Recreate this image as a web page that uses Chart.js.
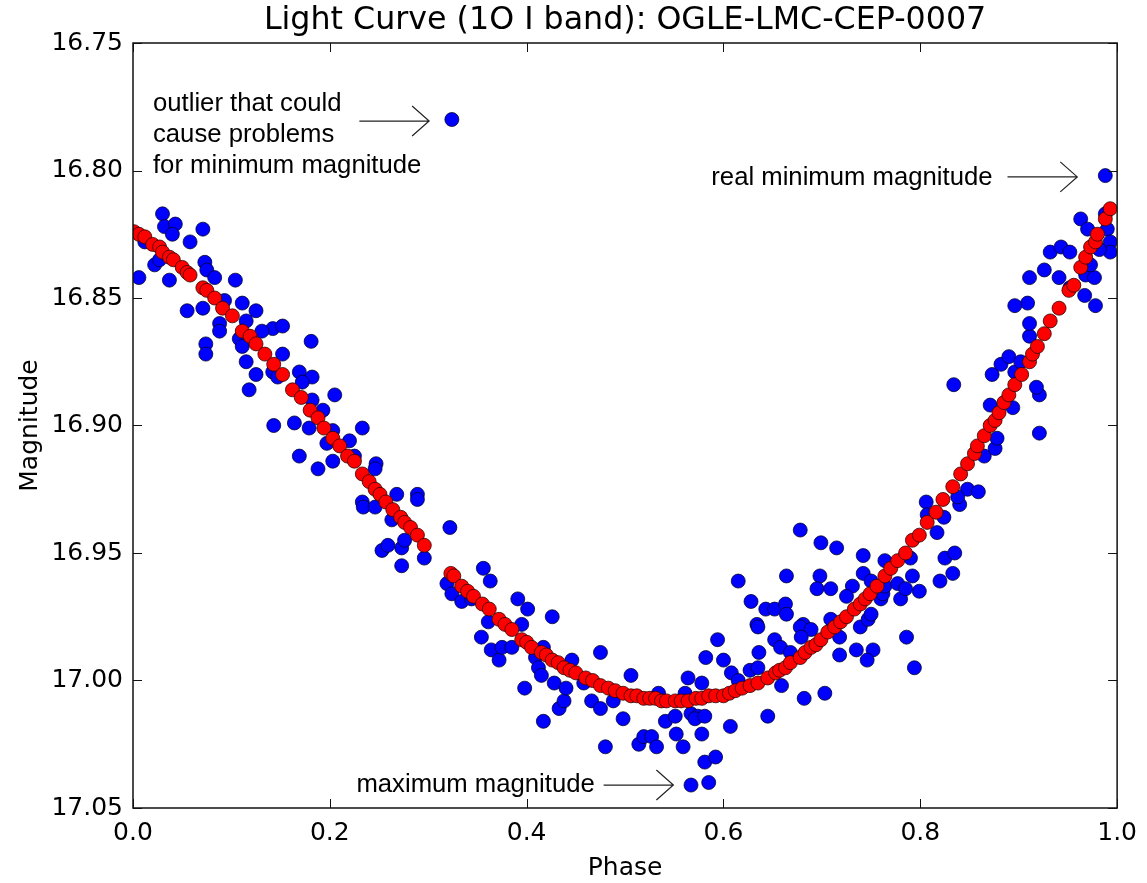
<!DOCTYPE html>
<html>
<head>
<meta charset="utf-8">
<script src="https://cdn.jsdelivr.net/npm/chart.js@4.4.1/dist/chart.umd.min.js"></script>
<style>
  html, body { margin: 0; padding: 0; background: #fff; }
  #caixa { width: 1147px; height: 883px; }
</style>
</head>
<body>
<div id="caixa"><canvas id="graficoCurva" width="1147" height="883"></canvas></div>
<script>
// pontos observados (azul)
const faseObs = [
  0.324, 0.030, 0.032, 0.043, 0.040, 0.071, 0.058, 0.006, 0.037, 0.022, 0.027, 0.012, 0.073, 0.075, 0.083, 0.104,
  0.055, 0.071, 0.111, 0.125, 0.088, 0.088, 0.093, 0.115, 0.142, 0.152, 0.131, 0.181, 0.074, 0.108,
  0.074, 0.115, 0.125, 0.118, 0.111, 0.152, 0.142, 0.147, 0.169, 0.182, 0.172, 0.205, 0.182, 0.193, 0.143, 0.164,
  0.179, 0.203, 0.197, 0.169, 0.188, 0.203, 0.233, 0.220, 0.225, 0.247, 0.246, 0.268, 0.289, 0.289, 0.233, 0.234,
  0.246, 0.263, 0.253, 0.259, 0.273, 0.276, 0.273, 0.296, 0.322, 0.319, 0.324,
  0.334, 0.356, 0.363, 0.391, 0.401, 0.426, 0.361, 0.395, 0.344, 0.615, 0.628, 0.643, 0.652, 0.634, 0.354, 0.364,
  0.372, 0.375, 0.385, 0.398, 0.409, 0.412, 0.415, 0.417, 0.417, 0.428, 0.433, 0.438, 0.440, 0.446, 0.458, 0.466,
  0.475, 0.480, 0.475, 0.498, 0.506, 0.488, 0.514, 0.519, 0.527, 0.532, 0.534, 0.541, 0.552, 0.551, 0.559, 0.561,
  0.564, 0.578, 0.567, 0.574, 0.571, 0.581, 0.578, 0.581, 0.592, 0.567, 0.585, 0.582, 0.594, 0.600, 0.607, 0.608,
  0.615, 0.627, 0.635, 0.636, 0.635, 0.645, 0.652,
  0.663, 0.664, 0.658, 0.668, 0.659, 0.681, 0.678, 0.689, 0.679, 0.682, 0.703, 0.709, 0.718, 0.718, 0.735, 0.739,
  0.747, 0.750, 0.752, 0.746, 0.760, 0.780, 0.786, 0.794,
  0.678, 0.699, 0.715, 0.742, 0.764, 0.664, 0.698, 0.695, 0.709, 0.731, 0.725, 0.742, 0.750, 0.762, 0.764, 0.777,
  0.785, 0.792, 0.799, 0.820, 0.833, 0.825, 0.835, 0.790, 0.817, 0.824, 0.806, 0.807, 0.840, 0.848, 0.859, 0.838,
  0.865, 0.876, 0.878, 0.871, 0.894, 0.921, 0.921, 0.918, 0.834, 0.873, 0.882, 0.890, 0.896, 0.902, 0.911,
  0.988, 0.963, 0.970, 0.988, 0.990, 0.993, 0.993, 0.982, 0.932, 0.943, 0.952, 0.911, 0.926, 0.941, 0.968, 0.977,
  0.952, 0.967, 0.978, 0.909, 0.896, 0.911, 0.973
]
const magObs = [
  16.780, 16.817, 16.822, 16.821, 16.825, 16.823, 16.828, 16.842, 16.843, 16.837, 16.835, 16.828, 16.836, 16.839, 16.842, 16.843,
  16.855, 16.854, 16.852, 16.855, 16.860, 16.863, 16.851, 16.859, 16.862, 16.861, 16.863, 16.867, 16.868, 16.866,
  16.872, 16.875, 16.880, 16.886, 16.869, 16.872, 16.879, 16.881, 16.879, 16.881, 16.883, 16.888, 16.890, 16.894, 16.900, 16.899,
  16.901, 16.902, 16.907, 16.912, 16.917, 16.914, 16.901, 16.906, 16.912, 16.915, 16.917, 16.927, 16.927, 16.929, 16.930, 16.932,
  16.932, 16.937, 16.949, 16.947, 16.948, 16.945, 16.955, 16.952, 16.940, 16.962, 16.966,
  16.969, 16.956, 16.961, 16.968, 16.972, 16.975, 16.977, 16.978, 16.968, 16.961, 16.969, 16.972, 16.972, 16.978, 16.983, 16.988,
  16.992, 16.987, 16.987, 17.003, 16.991, 16.995, 16.998, 16.987, 17.016, 17.001, 17.011, 17.008, 17.003, 16.992, 17.001, 17.008,
  17.011, 17.026, 16.989, 17.015, 16.998, 17.008, 17.025, 17.022, 17.022, 17.026, 17.005, 17.016, 17.021, 17.014, 17.026, 17.005,
  16.999, 17.001, 17.013, 17.014, 17.015, 17.014, 17.021, 17.032, 17.030, 17.041, 17.040, 16.991, 16.984, 16.992, 17.018, 16.997,
  17.000, 16.996, 16.995, 16.989, 16.979, 17.014, 16.984,
  16.970, 16.974, 16.987, 16.989, 17.002, 16.978, 16.979, 16.980, 16.983, 17.007, 17.005, 16.976, 16.983, 16.990, 16.988, 16.979,
  16.976, 16.974, 16.988, 16.992, 16.968, 16.968, 16.983, 16.995,
  16.941, 16.946, 16.948, 16.951, 16.953, 16.959, 16.959, 16.964, 16.964, 16.963, 16.967, 16.958, 16.961, 16.966, 16.963, 16.962,
  16.964, 16.959, 16.965, 16.961, 16.958, 16.952, 16.950, 16.952, 16.942, 16.936, 16.930, 16.935, 16.931, 16.925, 16.926, 16.928,
  16.912, 16.909, 16.905, 16.892, 16.893, 16.903, 16.888, 16.885, 16.884, 16.880, 16.876, 16.873, 16.879, 16.875, 16.865,
  16.802, 16.819, 16.823, 16.817, 16.823, 16.828, 16.832, 16.831, 16.832, 16.830, 16.832, 16.842, 16.839, 16.842, 16.841, 16.842,
  16.846, 16.849, 16.853, 16.852, 16.853, 16.860, 16.837
]

// curva ajustada (vermelho)
const faseAjuste = [
  0.001, 0.006, 0.012, 0.020, 0.027, 0.030, 0.037, 0.041, 0.050, 0.055, 0.058, 0.071, 0.075, 0.083, 0.091, 0.101,
  0.111, 0.119, 0.125, 0.134, 0.143, 0.152, 0.162, 0.171, 0.180, 0.188, 0.194, 0.203, 0.210, 0.218, 0.225, 0.233,
  0.240, 0.246, 0.251, 0.257, 0.264, 0.272, 0.276, 0.282, 0.289, 0.296, 0.323, 0.326, 0.334, 0.340, 0.346, 0.355,
  0.362, 0.372, 0.378, 0.385, 0.395, 0.400, 0.405, 0.415, 0.420, 0.426, 0.432, 0.438, 0.444, 0.450, 0.460, 0.467,
  0.475, 0.483, 0.490, 0.498, 0.506, 0.512, 0.519, 0.525, 0.531, 0.537, 0.542, 0.551, 0.557, 0.564, 0.572, 0.578,
  0.585, 0.592, 0.600, 0.606, 0.612, 0.619, 0.627, 0.635, 0.645, 0.653, 0.657, 0.663, 0.668, 0.678, 0.683, 0.689,
  0.694, 0.699, 0.706, 0.713, 0.719, 0.725, 0.733, 0.739, 0.744, 0.749, 0.756, 0.764, 0.770, 0.777, 0.785, 0.792,
  0.799, 0.807, 0.816, 0.823, 0.833, 0.841, 0.848, 0.855, 0.858, 0.865, 0.871, 0.876, 0.880, 0.885, 0.890, 0.896,
  0.903, 0.911, 0.914, 0.919, 0.926, 0.932, 0.941, 0.951, 0.956, 0.963, 0.968, 0.973, 0.978, 0.980, 0.988, 0.993
]
const magAjuste = [
  16.824, 16.825, 16.826, 16.829, 16.830, 16.832, 16.834, 16.835, 16.838, 16.840, 16.841, 16.846, 16.847, 16.850, 16.854, 16.857,
  16.863, 16.865, 16.868, 16.872, 16.876, 16.880, 16.886, 16.889, 16.894, 16.897, 16.901, 16.905, 16.908, 16.912, 16.914, 16.919,
  16.922, 16.925, 16.927, 16.930, 16.933, 16.936, 16.938, 16.940, 16.943, 16.947, 16.958, 16.959, 16.963, 16.965, 16.967, 16.970,
  16.972, 16.976, 16.978, 16.980, 16.984, 16.985, 16.987, 16.989, 16.990, 16.992, 16.993, 16.995, 16.996, 16.997, 16.999, 17.000,
  17.002, 17.003, 17.004, 17.005, 17.006, 17.006, 17.007, 17.007, 17.007, 17.008, 17.008, 17.008, 17.008, 17.008, 17.007, 17.007,
  17.006, 17.006, 17.006, 17.005, 17.004, 17.003, 17.002, 17.001, 16.999, 16.997, 16.996, 16.995, 16.993, 16.991, 16.989, 16.987,
  16.986, 16.984, 16.981, 16.979, 16.977, 16.975, 16.972, 16.970, 16.968, 16.966, 16.963, 16.959, 16.956, 16.953, 16.950, 16.945,
  16.943, 16.938, 16.934, 16.929, 16.924, 16.919, 16.915, 16.911, 16.908, 16.904, 16.900, 16.898, 16.895, 16.891, 16.888, 16.884,
  16.880, 16.875, 16.872, 16.869, 16.864, 16.859, 16.854, 16.847, 16.845, 16.838, 16.834, 16.830, 16.828, 16.825, 16.819, 16.815
]

const ticksFase = [0.0, 0.2, 0.4, 0.6, 0.8, 1.0]
const ticksMag = [16.75, 16.80, 16.85, 16.90, 16.95, 17.00, 17.05]

const titulo = 'Light Curve (1O I band): OGLE-LMC-CEP-0007'

// anotacoes: texto em coordenadas de dados, seta de -> ate
const notas = [
  { linhas: ['outlier that could', 'cause problems', 'for minimum magnitude'], fase: 0.0203, mag: 16.7739, alinha: 'left',
    setaDe: [0.2300, 16.7806], setaAte: [0.3009, 16.7806] },
  { linhas: ['real minimum magnitude'], fase: 0.8734, mag: 16.8029, alinha: 'right',
    setaDe: [0.8886, 16.8025], setaAte: [0.9595, 16.8025] },
  { linhas: ['maximum magnitude'], fase: 0.2270, mag: 17.0410, alinha: 'left',
    setaDe: [0.4782, 17.0410], setaAte: [0.5491, 17.0410] }
]

const fonteEixo = { family: 'DejaVu Sans', size: 25 }

const moldura = {
  id: 'moldura',
  afterDatasetsDraw(grafico) {
    const { ctx, chartArea: a, scales: { x, y } } = grafico
    ctx.save()
    ctx.strokeStyle = '#111'
    ctx.lineWidth = 1.5
    ctx.strokeRect(a.left, a.top, a.right - a.left, a.bottom - a.top)

    // ticks para dentro, nos quatro lados
    ctx.lineWidth = 1
    ticksFase.forEach((v) => {
      const px = Math.round(x.getPixelForValue(v)) + 0.5
      ctx.beginPath()
      ctx.moveTo(px, a.bottom); ctx.lineTo(px, a.bottom - 9)
      ctx.moveTo(px, a.top); ctx.lineTo(px, a.top + 9)
      ctx.stroke()
    })
    ticksMag.forEach((v) => {
      const py = Math.round(y.getPixelForValue(v)) + 0.5
      ctx.beginPath()
      ctx.moveTo(a.left, py); ctx.lineTo(a.left + 9, py)
      ctx.moveTo(a.right, py); ctx.lineTo(a.right - 9, py)
      ctx.stroke()
    })

    // titulo
    ctx.fillStyle = '#000'
    ctx.font = '31.7px "DejaVu Sans"'
    ctx.textAlign = 'center'
    ctx.textBaseline = 'middle'
    ctx.fillText(titulo, (a.left + a.right) / 2, a.top - 22)

    // anotacoes
    ctx.font = '25.7px "Liberation Sans"'
    notas.forEach((n) => {
      ctx.textAlign = n.alinha
      const tx = x.getPixelForValue(n.fase)
      const ty = y.getPixelForValue(n.mag)
      n.linhas.forEach((l, i) => ctx.fillText(l, tx, ty + i * 31))

      const x0 = x.getPixelForValue(n.setaDe[0])
      const y0 = y.getPixelForValue(n.setaDe[1])
      const x1 = x.getPixelForValue(n.setaAte[0])
      const y1 = y.getPixelForValue(n.setaAte[1])
      ctx.strokeStyle = '#222'
      ctx.lineWidth = 1.2
      ctx.beginPath()
      ctx.moveTo(x0, y0); ctx.lineTo(x1, y1)
      ctx.moveTo(x1 - 17, y1 - 15); ctx.lineTo(x1, y1); ctx.lineTo(x1 - 17, y1 + 15)
      ctx.stroke()
    })
    ctx.restore()
  }
}

const graficoCurva = new Chart(document.querySelector('#graficoCurva'), {
  type: 'scatter',
  data: {
    datasets: [
      {
        label: 'ajuste',
        data: faseAjuste.map((f, i) => ({ x: f, y: magAjuste[i] })),
        backgroundColor: '#ff0000',
        borderColor: 'rgba(40,0,0,0.85)',
        borderWidth: 0.9,
        pointRadius: 7,
        order: 0
      },
      {
        label: 'observado',
        data: faseObs.map((f, i) => ({ x: f, y: magObs[i] })),
        backgroundColor: '#0000ff',
        borderColor: 'rgba(0,0,40,0.85)',
        borderWidth: 0.9,
        pointRadius: 7,
        order: 1
      }
    ]
  },
  options: {
    responsive: false,
    animation: false,
    layout: { padding: { top: 43, right: 27, bottom: 0, left: 0 } },
    plugins: { legend: { display: false }, tooltip: { enabled: false } },
    scales: {
      x: {
        type: 'linear',
        min: 0,
        max: 1,
        grid: { display: false, drawTicks: false },
        border: { display: false },
        afterBuildTicks: (eixo) => { eixo.ticks = ticksFase.map((v) => ({ value: v })) },
        afterFit: (eixo) => { eixo.height = 75 },
        ticks: { padding: 10, color: '#000', font: fonteEixo, maxRotation: 0, autoSkip: false, callback: (v) => v.toFixed(1) },
        title: { display: true, text: 'Phase', color: '#000', font: fonteEixo, padding: { top: 4, bottom: 0 } }
      },
      y: {
        type: 'linear',
        reverse: true,
        min: 16.75,
        max: 17.05,
        grid: { display: false, drawTicks: false },
        border: { display: false },
        afterBuildTicks: (eixo) => { eixo.ticks = ticksMag.map((v) => ({ value: v })) },
        afterFit: (eixo) => { eixo.width = 133 },
        ticks: { padding: 10, color: '#000', font: fonteEixo, autoSkip: false, callback: (v) => v.toFixed(2) },
        title: { display: true, text: 'Magnitude', color: '#000', font: fonteEixo, padding: { top: 15, bottom: 0 } }
      }
    }
  },
  plugins: [moldura]
})
</script>
</body>
</html>
